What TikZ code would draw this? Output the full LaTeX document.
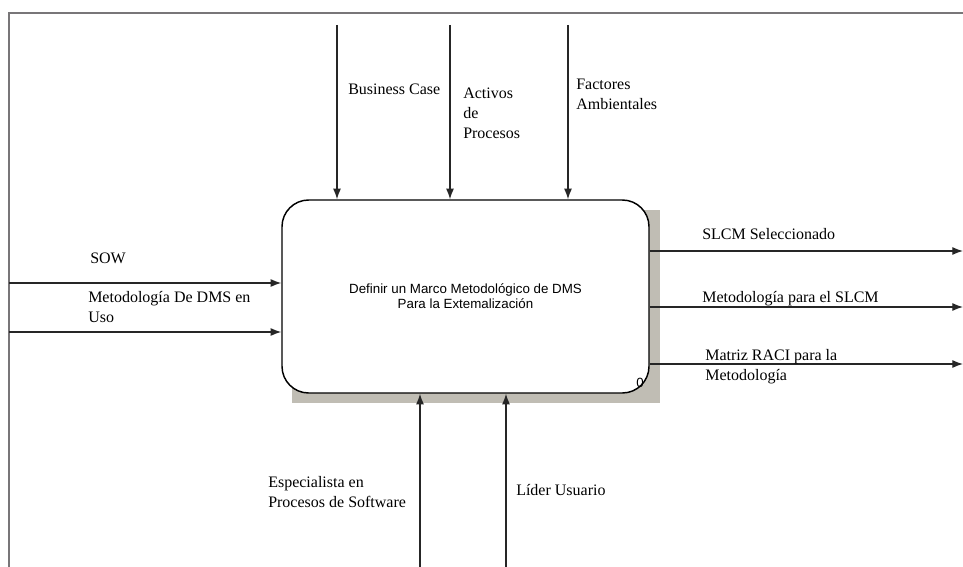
\documentclass[tikz,border=0pt]{standalone}
\usepackage{fontspec}
\setmainfont{Liberation Serif}
\newfontfamily\boxfont{Liberation Sans}
\usetikzlibrary{arrows.meta}
\definecolor{framegray}{RGB}{120,118,120}
\definecolor{shadowgray}{RGB}{192,189,180}
\tikzset{
  arr/.style={line width=0.9pt, draw=black!85, -{Latex[length=8pt,width=6pt]}},
  lbl/.style={inner sep=0pt, anchor=base west, align=left,
              font=\fontsize{12}{15}\selectfont},
  actbox/.style={draw=black, line width=1.1pt, fill=white, rounded corners=20pt,
                 minimum width=275.25pt, minimum height=144.75pt, inner sep=0pt,
                 align=center, font=\boxfont\fontsize{10}{11.25}\selectfont},
}
\begin{document}
\begin{tikzpicture}[x=0.75pt, y=-0.75pt]
\useasboundingbox (0,0) rectangle (963,567);
% outer frame (top and left edges)
\draw[framegray, line width=1.6pt] (9,567) -- (9,13) -- (963,13);

% activity box with drop shadow
\fill[shadowgray] (292,210) rectangle (660,403);
\node[actbox] (box) at (465.5,296.5)
  {Definir un Marco Metodológico de DMS\\Para la Extemalización};
\node[inner sep=0pt, anchor=base west, font=\boxfont\fontsize{10}{11}\selectfont] (num) at (636,387) {0};

% controls (top); multi-line labels are anchored at their last line
\coordinate (t1) at (337,25);
\coordinate (t2) at (450,25);
\coordinate (t3) at (568,25);
\draw[arr] (t1) -- (t1|-box.north);
\draw[arr] (t2) -- (t2|-box.north);
\draw[arr] (t3) -- (t3|-box.north);
\node[lbl] (lbc) at (348,94) {Business Case};
\node[lbl] (lap) at (463,138) {Activos\\de\\Procesos};
\node[lbl] (lfa) at (576,109) {Factores\\Ambientales};

% inputs (left)
\coordinate (i1) at (9,283);
\coordinate (i2) at (9,332);
\draw[arr] (i1) -- (i1-|box.west);
\draw[arr] (i2) -- (i2-|box.west);
\node[lbl] (lsow) at (90,263) {SOW};
\node[lbl] (lmet) at (88,322) {Metodología De DMS en\\Uso};

% outputs (right)
\coordinate (o1) at (963,251);
\coordinate (o2) at (963,307);
\coordinate (o3) at (963,364);
\draw[arr] (o1-|box.east) -- (o1);
\draw[arr] (o2-|box.east) -- (o2);
\draw[arr] (o3-|box.east) -- (o3);
\node[lbl] (lslcm) at (702,239) {SLCM Seleccionado};
\node[lbl] (lmps) at (702,302) {Metodología para el SLCM};
\node[lbl] (lraci) at (705,380) {Matriz RACI para la\\Metodología};

% mechanisms (bottom)
\coordinate (m1) at (420,567);
\coordinate (m2) at (506,567);
\draw[arr] (m1) -- (m1|-box.south);
\draw[arr] (m2) -- (m2|-box.south);
\node[lbl] (lesp) at (268,507) {Especialista en\\Procesos de Software};
\node[lbl] (llid) at (516,495) {Líder Usuario};
\end{tikzpicture}
\end{document}
